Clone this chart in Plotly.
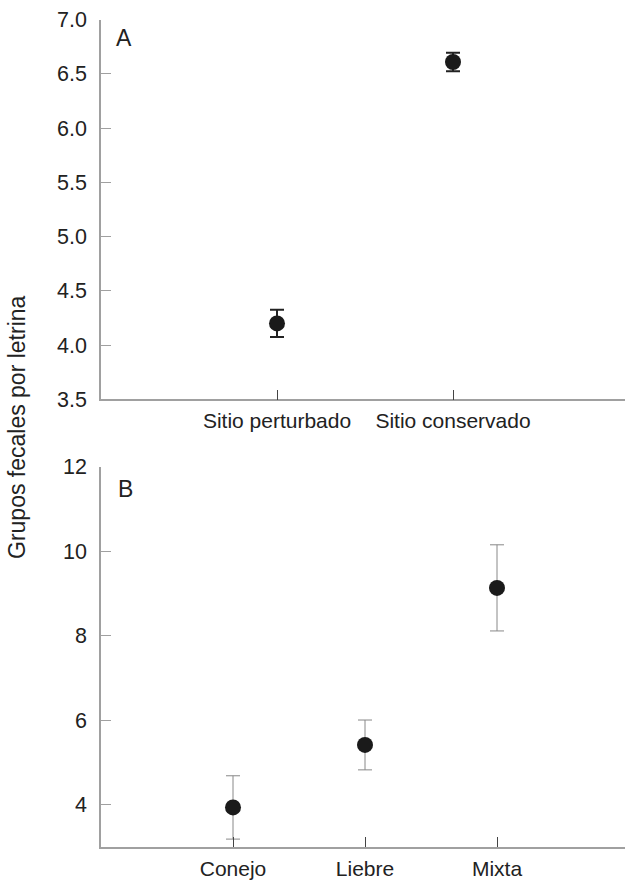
import plotly.graph_objects as go

# Panel A data
sitios = ["Sitio perturbado", "Sitio conservado"]
sitio_pos = [1, 2]
sitio_media = [4.20, 6.61]
sitio_error = [0.125, 0.085]

# Panel B data
especies = ["Conejo", "Liebre", "Mixta"]
especie_pos = [1, 2, 3]
especie_media = [3.93, 5.41, 9.13]
especie_error = [0.75, 0.59, 1.02]

ticks_a = [3.5, 4.0, 4.5, 5.0, 5.5, 6.0, 6.5, 7.0]
ticks_a_text = ["3.5", "4.0", "4.5", "5.0", "5.5", "6.0", "6.5", "7.0"]
ticks_b = [4, 6, 8, 10, 12]

W, H = 625, 881
L = 101
PW = W - L
FONT = "Liberation Sans, Arial, Helvetica, sans-serif"
TXT = "#222222"
AX = "#a0a0a0"


def py(px):
    """page pixel y -> paper fraction"""
    return 1 - px / H


def px_(px):
    """page pixel x -> paper fraction"""
    return (px - L) / PW


fig = go.Figure()
fig.add_trace(go.Scatter(
    x=sitio_pos, y=sitio_media, mode="markers",
    marker=dict(size=16, color="#1a1a1a"),
    error_y=dict(type="data", array=sitio_error, color="#222222", thickness=2, width=7),
    xaxis="x", yaxis="y", showlegend=False))
fig.add_trace(go.Scatter(
    x=especie_pos, y=especie_media, mode="markers",
    marker=dict(size=16, color="#1a1a1a"),
    error_y=dict(type="data", array=especie_error, color="#888888", thickness=1, width=7),
    xaxis="x2", yaxis="y2", showlegend=False))

common_x = dict(showline=True, linecolor=AX, linewidth=1.5, ticks="inside", ticklen=10,
                tickcolor="#444444", tickwidth=1, showgrid=False, zeroline=False,
                automargin=False, ticklabelstandoff=2,
                tickfont=dict(family=FONT, size=21, color=TXT))
common_y = dict(showline=True, linecolor=AX, linewidth=1.5, ticks="inside", ticklen=10,
                tickcolor=AX, tickwidth=1, showgrid=False, zeroline=False,
                automargin=False, ticklabelstandoff=8,
                tickfont=dict(family=FONT, size=21.5, color=TXT))

fig.update_layout(
    width=W, height=H,
    margin=dict(l=L, r=0, t=0, b=0, autoexpand=False),
    plot_bgcolor="white", paper_bgcolor="white",
    xaxis=dict(domain=[0, 1], range=[0, PW / 176], tickvals=sitio_pos, ticktext=sitios,
               anchor="y", **common_x),
    yaxis=dict(domain=[py(399.3), py(19.7)], range=[3.5, 7.0], tickvals=ticks_a,
               ticktext=ticks_a_text, anchor="x", **common_y),
    xaxis2=dict(domain=[0, 1], range=[0, PW / 132], tickvals=especie_pos, ticktext=especies,
                anchor="y2", **common_x),
    yaxis2=dict(domain=[py(846.7), py(466.7)], range=[3, 12], tickvals=ticks_b,
                anchor="x2", **common_y),
    annotations=[
        dict(text="Grupos fecales por letrina", xref="paper", yref="paper",
             x=px_(17), y=py(427), textangle=-90, showarrow=False,
             xanchor="center", yanchor="middle",
             font=dict(family=FONT, size=23, color=TXT)),
        dict(text="A", xref="paper", yref="paper", x=px_(114), y=py(38.5),
             showarrow=False, xanchor="left", yanchor="middle",
             font=dict(family=FONT, size=23, color=TXT)),
        dict(text="B", xref="paper", yref="paper", x=px_(116), y=py(488.5),
             showarrow=False, xanchor="left", yanchor="middle",
             font=dict(family=FONT, size=23, color=TXT)),
    ],
)

fig.write_html(
    "out.html",
    config={"displayModeBar": False, "responsive": False},
    post_script=(
        "document.body.style.margin='0';"
        "document.body.style.overflow='hidden';"
        "document.documentElement.style.overflow='hidden';"
    ),
)
